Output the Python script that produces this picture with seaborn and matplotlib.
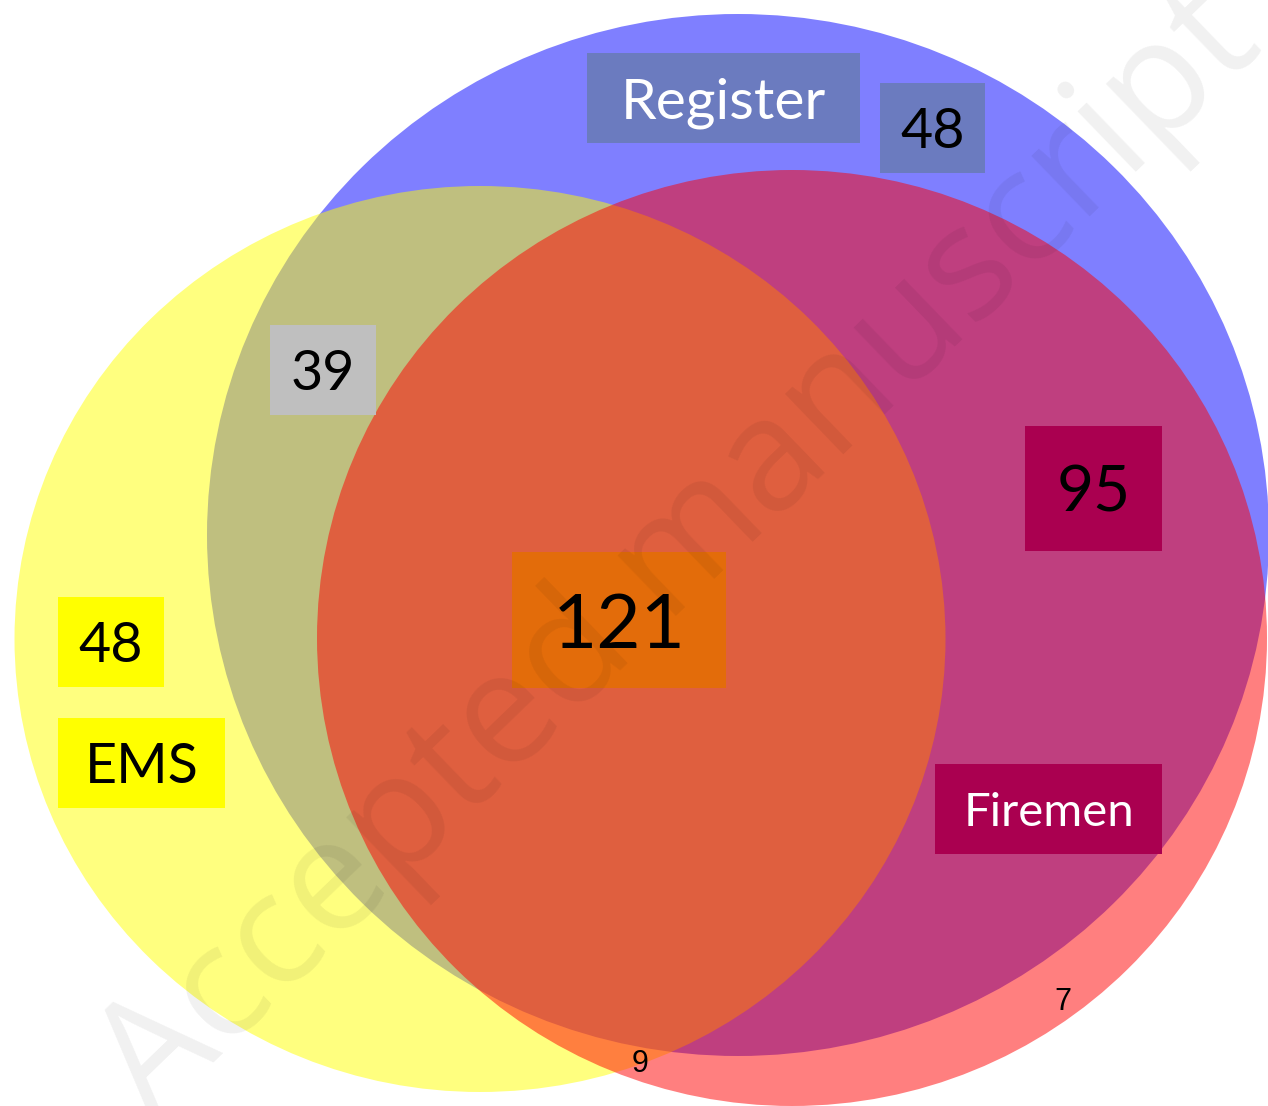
import matplotlib
matplotlib.use("Agg")
import matplotlib.pyplot as plt
from matplotlib.patches import Ellipse, Rectangle
import seaborn as sns

# ---- data ----
SET_NAMES = ["Register", "EMS", "Firemen"]
SET_COLORS = ["#0000ff", "#ffff00", "#ff0000"]
REGION_NAMES = ["Register only", "EMS only", "Firemen only",
                "Register & EMS", "Register & Firemen", "EMS & Firemen", "All three"]
REGION_COUNTS = [48, 48, 7, 39, 95, 9, 121]

sns.set_theme(style="white")
plt.rcParams['font.family'] = ['Lato', 'DejaVu Sans']

W, H = 1268, 1106
fig = plt.figure(figsize=(W / 100, H / 100), dpi=100)
ax = fig.add_axes([0, 0, 1, 1])
ax.set_xlim(0, W)
ax.set_ylim(H, 0)
ax.axis('off')

# circles (centre x, centre y, width, height) in pixel units
shapes = [(738, 535, 1062, 1042),   # Register
          (480, 639, 931, 906),     # EMS
          (792, 638, 950, 936)]     # Firemen
for (cx, cy, w, h), col in zip(shapes, SET_COLORS):
    ax.add_patch(Ellipse((cx, cy), w, h, facecolor=col, alpha=0.5, lw=0))

PX = 100 / 72  # px per point
CAP = 0.72


def boxed(text, box, face, size, color='black'):
    x0, y0, x1, y1 = box
    ax.add_patch(Rectangle((x0, y0), x1 - x0, y1 - y0, facecolor=face, lw=0, zorder=3))
    cy = (y0 + y1) / 2 + size * PX * CAP / 2
    ax.text((x0 + x1) / 2, cy, text, ha='center', va='baseline',
            fontsize=size, color=color, zorder=4)


counts = dict(zip(REGION_NAMES, REGION_COUNTS))

# set labels
boxed(SET_NAMES[0], (587, 53, 860, 143), '#6b7bbf', 41, 'white')
boxed(SET_NAMES[1], (58, 718, 225, 808), '#ffff00', 40)
boxed(SET_NAMES[2], (935, 764, 1162, 854), '#aa0050', 34, 'white')

# region counts
boxed(str(counts["Register only"]), (880, 83, 985, 173), '#6b7bbf', 40)
boxed(str(counts["EMS only"]), (58, 597, 164, 687), '#ffff00', 40)
boxed(str(counts["Register & EMS"]), (270, 325, 376, 415), '#bfbfbf', 40)
boxed(str(counts["Register & Firemen"]), (1025, 426, 1162, 551), '#aa0050', 46)
boxed(str(counts["All three"]), (512, 552, 726, 688), '#e36c0a', 55)

small = ['Liberation Sans', 'DejaVu Sans']
ax.text(1063, 1010, str(counts["Firemen only"]), ha='center', va='baseline',
        fontsize=22, family=small, color='black', zorder=4)
ax.text(640, 1072, str(counts["EMS & Firemen"]), ha='center', va='baseline',
        fontsize=22, family=small, color='black', zorder=4)

# watermark
ax.text(680, 555, "Accepted manuscript", rotation=44, rotation_mode='anchor',
        ha='center', va='center', fontsize=113, family=['Open Sans', 'DejaVu Sans'],
        color='black', alpha=0.06, zorder=5)

fig.savefig("out.png", dpi=100)
